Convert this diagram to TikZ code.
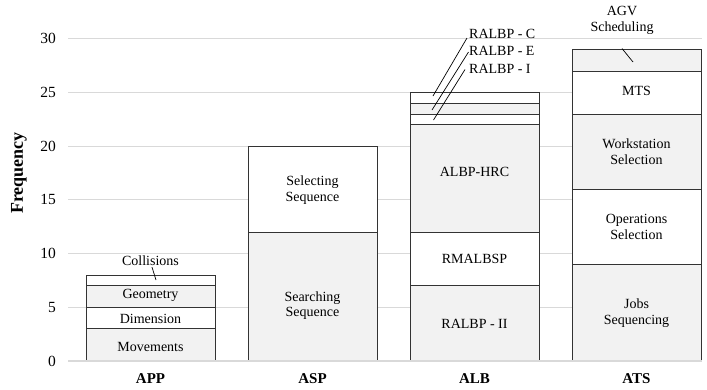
\documentclass[tikz,border=0pt]{standalone}
\usepackage{fontspec}
\setmainfont{Liberation Serif}
\definecolor{barfill}{HTML}{F2F2F2}
\definecolor{barline}{HTML}{333333}
\definecolor{gridgray}{HTML}{D9D9D9}
% one stacked segment: name, left x, lower value, upper value, fill style
\newcommand{\barseg}[5]{%
  \pgfmathsetmacro\segh{10.74*(#4-#3)}%
  \pgfmathsetmacro\segy{361-10.74*#3}%
  \node[seg,#5,minimum height=\segh pt] (#1) at (#2,\segy) {};}
\begin{document}
\begin{tikzpicture}[x=1pt,y=-1pt,
  seg/.style={draw=barline, line width=0.9pt, inner sep=0pt, outer sep=0pt,
    minimum width=129pt, anchor=south west},
  shaded/.style={fill=barfill},
  plain/.style={fill=white},
  lbl/.style={font=\fontsize{14}{15.5}\selectfont, align=center, inner sep=1pt},
  sidelbl/.style={lbl, anchor=west, inner sep=0pt},
  tick/.style={font=\fontsize{15.5}{17}\selectfont, anchor=east, inner sep=0pt},
  cat/.style={font=\fontsize{15}{17}\selectfont\bfseries},
  gridline/.style={draw=gridgray, line width=0.9pt},
  leader/.style={draw=black, line width=0.7pt}]

\useasboundingbox (0,0) rectangle (707,389);

% value grid and tick labels
\foreach \v in {5,10,...,30}{
  \draw[gridline] (68,{361-10.74*\v}) -- (702,{361-10.74*\v});
}
\foreach \v in {0,5,...,30}{
  \node[tick] (tick\v) at (56,{361-10.74*\v}) {\v};
}
\node[font=\fontsize{18}{20}\selectfont\bfseries, rotate=90] (ylab) at (19,173) {Frequency};

% APP
\barseg{appA}{86}{0}{3}{shaded}
\barseg{appB}{86}{3}{5}{plain}
\barseg{appC}{86}{5}{7}{shaded}
\barseg{appD}{86}{7}{8}{plain}
% ASP
\barseg{aspA}{248}{0}{12}{shaded}
\barseg{aspB}{248}{12}{20}{plain}
% ALB
\barseg{albA}{410}{0}{7}{shaded}
\barseg{albB}{410}{7}{12}{plain}
\barseg{albC}{410}{12}{22}{shaded}
\barseg{albD}{410}{22}{23}{plain}
\barseg{albE}{410}{23}{24}{shaded}
\barseg{albF}{410}{24}{25}{plain}
% ATS
\barseg{atsA}{572}{0}{9}{shaded}
\barseg{atsB}{572}{9}{16}{plain}
\barseg{atsC}{572}{16}{23}{shaded}
\barseg{atsD}{572}{23}{27}{plain}
\barseg{atsE}{572}{27}{29}{shaded}

% category axis
\draw[draw=gridgray, line width=1.2pt] (68,361) -- (702,361);
\node[cat] (catAPP) at (150.5,379) {APP};
\node[cat] (catASP) at (312.5,379) {ASP};
\node[cat] (catALB) at (474.5,379) {ALB};
\node[cat] (catATS) at (636.5,379) {ATS};

% APP labels
\node[lbl] (lMov) at (150.5,347) {Movements};
\node[lbl] (lDim) at (150.5,319) {Dimension};
\node[lbl] (lGeo) at (150.5,295) {Geometry};
\node[lbl] (lCol) at (150.5,261) {Collisions};
\coordinate (pCol) at (156,280);
\draw[leader] ([xshift=1.5pt]lCol.south) -- (pCol);

% ASP labels
\node[lbl] (lSel) at (312.5,190) {Selecting\\Sequence};
\node[lbl] (lSea) at (312.5,305.5) {Searching\\Sequence};

% ALB labels
\node[lbl] (lII) at (474.5,324) {RALBP - II};
\node[lbl] (lRM) at (474.5,259) {RMALBSP};
\node[lbl] (lHRC) at (474.5,172) {ALBP-HRC};
\node[sidelbl] (lC) at (469,34) {RALBP - C};
\node[sidelbl] (lE) at (469,51) {RALBP - E};
\node[sidelbl] (lI) at (469,69) {RALBP - I};
\coordinate (pC) at (433,96);
\coordinate (pE) at (432,110);
\coordinate (pI) at (433.5,120);
\draw[leader] ([xshift=-2pt,yshift=-4pt]lC.west) -- (pC);
\draw[leader] ([xshift=-0.5pt,yshift=-1pt]lE.west) -- (pE);
\draw[leader] ([xshift=-4pt,yshift=-0.5pt]lI.west) -- (pI);

% ATS labels
\node[lbl] (lJob) at (636.5,313) {Jobs\\Sequencing};
\node[lbl] (lOps) at (636.5,226.7) {Operations\\Selection};
\node[lbl] (lWs) at (636.5,151.7) {Workstation\\Selection};
\node[lbl] (lMTS) at (636.5,91) {MTS};
\node[lbl] (lAGV) at (622,20.5) {AGV\\Scheduling};
\coordinate (pAGVtop) at (622,48.5);
\coordinate (pAGV) at (633,62);
\draw[leader] (pAGVtop) -- (pAGV);
\end{tikzpicture}
\end{document}
